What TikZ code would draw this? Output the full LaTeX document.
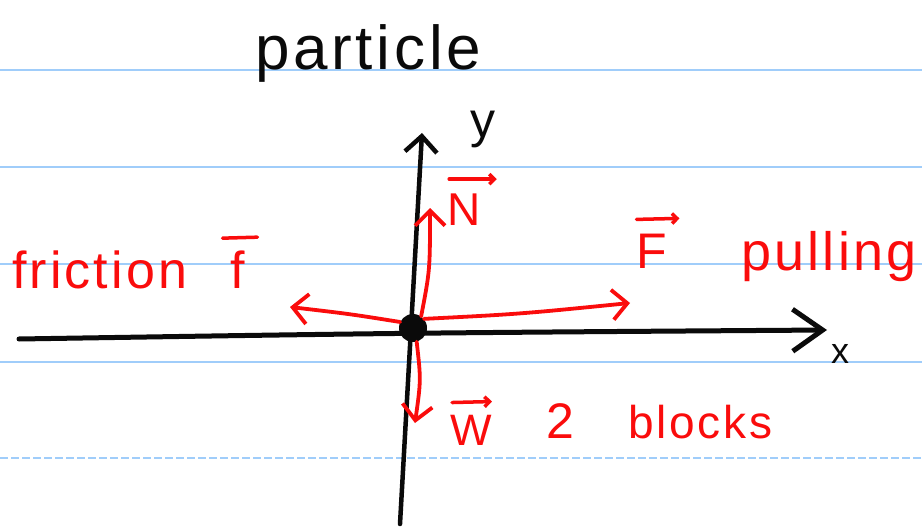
\documentclass[tikz,border=0pt]{standalone}
\usepackage{fontspec}
\setmainfont{Liberation Sans}
\newfontfamily\handfont[LetterSpace=6]{Liberation Sans}
\usetikzlibrary{arrows.meta}
\definecolor{ruleblue}{RGB}{160,205,250}
\definecolor{ink}{RGB}{10,10,10}
\definecolor{pen}{RGB}{250,12,12}
\begin{document}
\begin{tikzpicture}[x=1pt,y=-1pt,
  ruleline/.style={ruleblue,line width=2pt},
  axisline/.style={ink,line width=5pt,line cap=round,-{Straight Barb[length=30pt,width=42pt]}},
  yaxisline/.style={ink,line width=4.5pt,line cap=round,-{Straight Barb[length=16pt,width=32pt]}},
  force/.style={pen,line width=3.8pt,line cap=round,-{Straight Barb[length=15pt,width=30pt]}},
  overarrow/.style={pen,line width=3.5pt,line cap=round,-{Straight Barb[length=5pt,width=10pt]}},
  overbar/.style={pen,line width=3.5pt,line cap=round},
  blacktext/.style={ink,inner sep=0pt},
  redtext/.style={pen,inner sep=0pt},
  dot/.style={circle,fill=ink,minimum size=28pt,inner sep=0pt}]
\useasboundingbox (0,0) rectangle (922,527);
\fill[white] (0,0) rectangle (922,527);
% ruled paper
\draw[ruleline] (0,70) -- (922,70);
\draw[ruleline] (0,167) -- (922,167);
\draw[ruleline] (0,264) -- (922,264);
\draw[ruleline] (0,362) -- (922,362);
\draw[ruleline,dash pattern=on 8pt off 3pt] (0,458) -- (922,458);
% axes
\coordinate (xL) at (19,339);
\coordinate (xR) at (827,330);
\coordinate (yB) at (400,524);
\coordinate (yT) at (422,133);
\draw[axisline] (xL) .. controls (400,333) .. (xR);
\draw[yaxisline] (yB) -- (yT);
% particle
\node[dot] (O) at (413,328) {};
% force tips
\coordinate (Ntip) at (430,208);
\coordinate (Ftip) at (630,303);
\coordinate (ftip) at (290,307);
\coordinate (Wtip) at (415,423);
\draw[force] (O.55) .. controls (430,270) .. (Ntip);
\draw[force] (O.40) .. controls (520,314) .. (Ftip);
\draw[force] (O.155) .. controls (350,314) .. (ftip);
\draw[force] (O.-75) .. controls (421,380) .. (Wtip);
% labels
\node[blacktext,anchor=base west,font=\handfont\fontsize{62}{70}\selectfont] (title) at (255,70) {particle};
\node[blacktext,anchor=base west,font=\handfont\fontsize{50}{60}\selectfont] (ylab) at (470,137) {y};
\node[blacktext,anchor=center,font=\handfont\fontsize{36}{40}\selectfont] (xlab) at (840,354) {x};
\node[redtext,anchor=base,font=\handfont\fontsize{46}{52}\selectfont] (Nlab) at (464,225) {N};
\node[redtext,anchor=base,font=\handfont\fontsize{50}{56}\selectfont] (Flab) at (652,268) {F};
\node[redtext,anchor=base,font=\handfont\fontsize{44}{50}\selectfont] (Wlab) at (471,445) {W};
\node[redtext,anchor=base west,font=\handfont\fontsize{52}{58}\selectfont] (fric) at (12,288) {friction};
\node[redtext,anchor=base,font=\handfont\fontsize{52}{58}\selectfont] (fbar) at (238,288) {f};
\node[redtext,anchor=base west,font=\handfont\fontsize{54}{60}\selectfont] (pull) at (741,270) {pulling};
\node[redtext,anchor=base,font=\handfont\fontsize{50}{56}\selectfont] (two) at (560,438) {2};
\node[redtext,anchor=base west,font=\handfont\fontsize{46}{52}\selectfont] (blocks) at (628,438) {blocks};
% vector marks over the labels
\draw[overarrow] ([xshift=2pt,yshift=14pt]Nlab.north west) -- ([xshift=16pt,yshift=14pt]Nlab.north east);
\draw[overarrow] ([xshift=0pt,yshift=14pt]Flab.north west) -- ([xshift=12pt,yshift=15pt]Flab.north east);
\draw[overarrow] ([xshift=2pt,yshift=12pt]Wlab.north west) -- ([xshift=0pt,yshift=13pt]Wlab.north east);
\draw[overbar] ([xshift=-8pt,yshift=12pt]fbar.north west) -- ([xshift=12pt,yshift=13pt]fbar.north east);
\end{tikzpicture}
\end{document}
